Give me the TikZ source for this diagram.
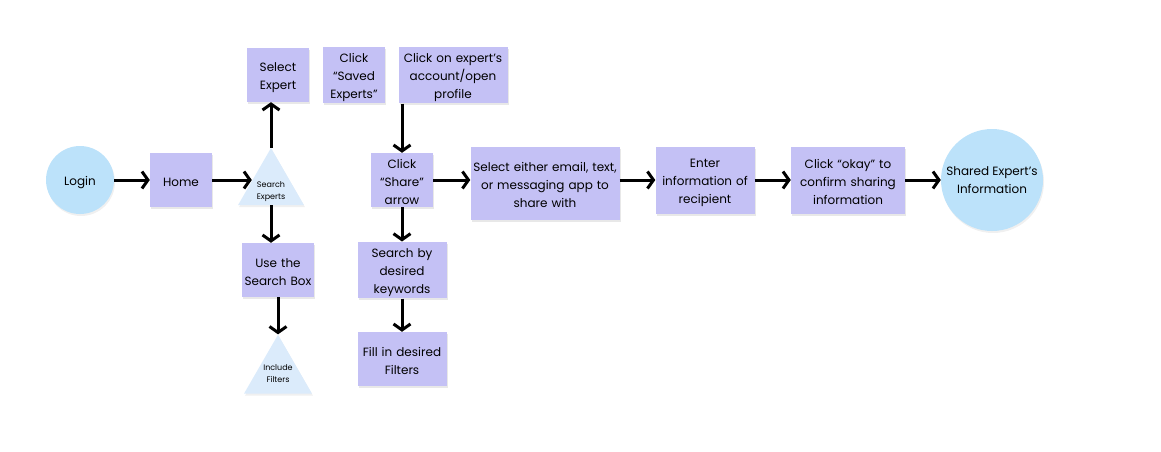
\documentclass[tikz,border=0pt]{standalone}
\usepackage{fontspec}
\setmainfont{Poppins}
\usetikzlibrary{shapes.geometric}
\usetikzlibrary{arrows.meta}
\usetikzlibrary{shadows}
\definecolor{lavender}{HTML}{C4C1F5}
\definecolor{skyblue}{HTML}{BCE2FA}
\definecolor{paleblue}{HTML}{DBEBFB}
\tikzstyle{block} = [rectangle, fill=lavender, align=center, inner xsep=0pt, inner ysep=2pt,
    font=\fontsize{12}{18}\selectfont, text width=62pt, minimum height=54pt,
    execute at begin node={\rule{0pt}{13.5pt}},
    drop shadow={shadow xshift=1pt, shadow yshift=-2pt, opacity=0.18}]
\tikzstyle{cloud} = [circle, fill=skyblue, align=center, inner sep=0pt,
    font=\fontsize{12}{17.5}\selectfont,
    drop shadow={shadow xshift=1pt, shadow yshift=-2pt, opacity=0.12}]
\tikzstyle{tri} = [regular polygon, regular polygon sides=3, fill=paleblue, inner sep=0pt,
    drop shadow={shadow xshift=1pt, shadow yshift=-2pt, opacity=0.12}]
\tikzstyle{tritext} = [align=center, inner sep=0pt, font=\fontsize{8}{12}\selectfont]
\tikzstyle{line} = [draw, line width=3pt, -{Straight Barb[length=6pt,width=17pt]}]

\begin{document}
\begin{tikzpicture}[node distance=100pt, x=1pt, y=1pt]
    \useasboundingbox (0,0) rectangle (1161,-452);
    % Place nodes
    \node [cloud, minimum size=68pt, text height=11pt, text depth=0pt] (login) at (80,-180) {Login};
    \node [block, right of=login, node distance=101pt] (home) {Home};
    \node [tri, minimum size=76pt, right of=home, node distance=90pt, yshift=-6pt,
        label={[tritext, yshift=-6pt]center:Search\\Experts}] (srch) {};
    \node [block, above of=srch, node distance=111pt, xshift=7pt] (sel) {Select\\Expert};
    \node [block, right of=sel, node distance=76pt] (saved) {Click\\“Saved\\Experts”};
    \node [block, text width=109pt, right of=saved, node distance=99pt] (prof) {Click on expert’s\\account/open\\profile};
    \node [block, below of=srch, node distance=84pt, xshift=7pt, text width=72pt] (use) {Use the\\Search Box};
    \node [tri, minimum size=78.5pt, below of=use, node distance=104pt,
        label={[tritext]center:Include\\Filters}] (incl) {};
    \node [block, right of=home, node distance=221pt] (share) {Click\\“Share”\\arrow};
    \node [block, below of=share, node distance=90pt, text width=89pt] (kw) {Search by\\desired\\keywords};
    \node [block, below of=kw, node distance=89pt, text width=89pt] (fill) {Fill in desired\\Filters};
    \node [block, right of=share, node distance=143pt, yshift=-3pt, text width=149pt, minimum height=73pt] (pick) {Select either email, text,\\or messaging app to\\share with};
    \node [block, right of=pick, node distance=160pt, yshift=3pt, text width=99pt, minimum height=67pt] (enter) {Enter\\information of\\recipient};
    \node [block, right of=enter, node distance=143pt, text width=114pt, minimum height=67pt] (okay) {Click “okay” to\\confirm sharing\\information};
    \node [cloud, minimum size=102pt, right of=okay, node distance=144pt] (shared) {Shared Expert’s\\Information};
    % Draw edges
    \path [line] (login) -- (home);
    \path [line, shorten >=-3pt] (home.east) -- (srch.west |- home.east);
    \path [line] (srch.north) -- (srch.north |- sel.south);
    \path [line] (srch.south) -- (srch.south |- use.north);
    \path [line] (use) -- (incl);
    \path [line] (share.north |- prof.south) -- (share.north);
    \path [line] (share) -- (share -| pick.west);
    \path [line] (share) -- (kw);
    \path [line] (kw) -- (fill);
    \path [line] (pick.east |- enter) -- (enter);
    \path [line] (enter) -- (okay);
    \path [line] (okay) -- (shared);
\end{tikzpicture}
\end{document}
